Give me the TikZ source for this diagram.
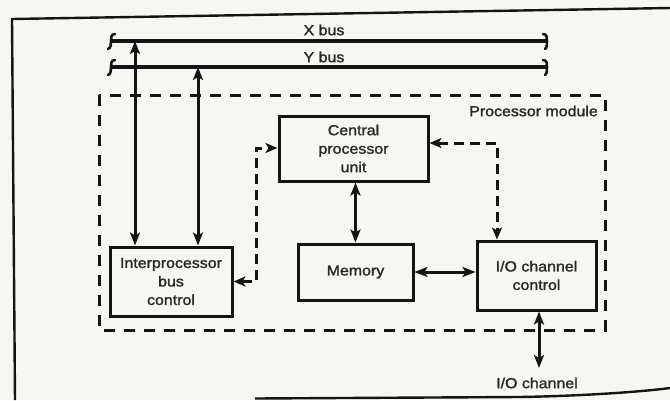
\documentclass[tikz,border=0pt]{standalone}
\usepackage{fontspec}
\setmainfont{Liberation Sans}[FakeStretch=1.1,FakeBold=1.6]
\usetikzlibrary{arrows.meta,calc}
\definecolor{ink}{RGB}{20,20,20}
\definecolor{txt}{RGB}{40,40,40}
\definecolor{paper}{RGB}{246,246,243}
\begin{document}
\begin{tikzpicture}[x=1pt,y=-1pt,
  box/.style={draw=ink,line width=3pt,fill=none,inner sep=0pt,align=center,text=txt,
    font=\fontsize{14.5}{18.5}\selectfont},
  lbl/.style={text=txt,inner sep=0pt,font=\fontsize{14.5}{18}\selectfont},
  busline/.style={draw=ink,line width=3.4pt},
  busend/.style={draw=ink,line width=2.6pt,line cap=round},
  solidarrow/.style={draw=ink,line width=3pt,{Stealth[length=13pt,width=10pt,inset=3pt]}-{Stealth[length=13pt,width=10pt,inset=3pt]}},
  dasharrow/.style={draw=ink,line width=3pt,dash pattern=on 10pt off 6pt,{Stealth[length=12pt,width=10pt,inset=3pt]}-{Stealth[length=12pt,width=10pt,inset=3pt]}},
  module/.style={draw=ink,line width=3pt,dash pattern=on 11pt off 9pt}
]
\useasboundingbox (0,0) rectangle (670,400);
\fill[paper] (0,0) rectangle (670,400);
% outer frame
\draw[ink,line width=2.4pt] (670,8) -- (12,19) -- (15,400);
\draw[ink,line width=2.4pt] (255,398.5) -- (520,397) .. controls (580,396) and (640,392) .. (670,388);

% buses
\coordinate (xl) at (111,41);
\coordinate (xr) at (547,41);
\coordinate (yl) at (111,67);
\coordinate (yr) at (547,67);
\draw[busline] (xl) -- (xr);
\draw[busline] (yl) -- (yr);
\draw[busend] (115,34) .. controls (111,34) and (111,38) .. (xl) .. controls (111,44) and (111,48) .. (108,49);
\draw[busend] (115,60) .. controls (111,60) and (111,64) .. (yl) .. controls (111,70) and (111,74) .. (108,75);
\draw[busend] (543,34) .. controls (547,34) and (547,38) .. (xr) .. controls (547,44) and (547,48) .. (545,49);
\draw[busend] (543,60) .. controls (547,60) and (547,64) .. (yr) .. controls (547,70) and (547,74) .. (545,75);
\node[lbl] (xbus) at (324,30) {X bus};
\node[lbl] (ybus) at (324,57) {Y bus};

% module
\draw[module] (99,95) rectangle (605,330);
\node[lbl,anchor=east] (modlbl) at (598,111) {Processor module};

% boxes
\node[box,minimum width=149pt,minimum height=65pt] (cpu) at (353.5,148.5) {Central\\processor\\unit};
\node[box,minimum width=115pt,minimum height=56pt] (mem) at (355.5,272) {Memory};
\node[box,minimum width=122pt,minimum height=69pt] (ibc) at (171,281.5) {Interprocessor\\bus\\control};
\node[box,minimum width=119pt,minimum height=69pt] (io) at (536.5,275.5) {I/O channel\\control};

% bus arrows
\coordinate (xa) at (135,41);
\coordinate (ya) at (198,67);
\draw[solidarrow] (xa) -- (xa |- ibc.north);
\draw[solidarrow] (ya) -- (ya |- ibc.north);

% cpu - memory
\draw[solidarrow] (mem.north |- cpu.south) -- (mem.north);
% memory - io
\draw[solidarrow] (mem.east) -- (mem.east -| io.west);

% io channel
\coordinate (ioch) at (539,368);
\draw[solidarrow] (ioch |- io.south) -- (ioch);
\node[lbl] (iolbl) at (537,383) {I/O channel};

% dashed links
\draw[dasharrow] (ibc.east) -- (256,281.5) -- (256,148) -- (cpu.west |- 0,148);
\draw[dasharrow] (cpu.east |- 0,143) -- (497,143) -- (497,0 |- io.north);
\end{tikzpicture}
\end{document}
